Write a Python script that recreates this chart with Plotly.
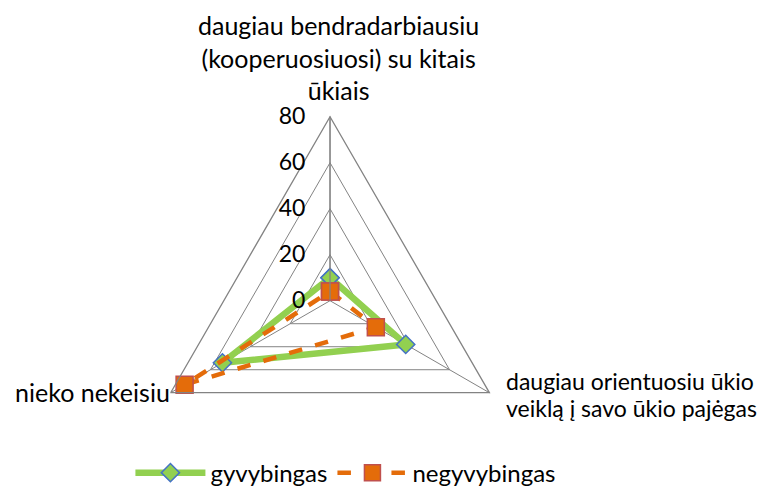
import plotly.graph_objects as go

# ---- data ----
categories = [
    "daugiau bendradarbiausiu<br>(kooperuosiuosi) su kitais<br>ūkiais",
    "daugiau orientuosiu ūkio<br>veiklą į savo ūkio pajėgas",
    "nieko nekeisiu",
]
gyvybingas = [10, 38, 54]
negyvybingas = [4, 23, 73]
radial_ticks = [0, 20, 40, 60, 80]

GRID = "#838383"
GREEN = "#92D050"
BLUE = "#4472C4"
ORANGE = "#E46C0A"
RED_EDGE = "#C0504D"
FONT = "Lato"

theta_ids = ["a", "b", "c"]


def closed(vals):
    return list(vals) + [vals[0]]


fig = go.Figure()
fig.add_trace(go.Scatterpolar(
    r=closed(gyvybingas), theta=closed(theta_ids), name="gyvybingas",
    mode="lines+markers",
    line=dict(color=GREEN, width=6.5),
    marker=dict(symbol="diamond", size=14, color=GREEN,
                line=dict(color=BLUE, width=1.5)),
))
fig.add_trace(go.Scatterpolar(
    r=closed(negyvybingas), theta=closed(theta_ids), name="negyvybingas",
    mode="lines+markers",
    line=dict(color=ORANGE, width=4.5, dash="dash"),
    marker=dict(symbol="square", size=17, color=ORANGE,
                line=dict(color=RED_EDGE, width=1.5)),
))

fig.update_layout(
    width=768, height=489,
    margin=dict(l=0, r=0, t=0, b=0),
    paper_bgcolor="white",
    font=dict(family=FONT, size=24, color="black"),
    polar=dict(
        domain=dict(x=[0.1797, 0.6589], y=[0.0244, 0.7784]),
        gridshape="linear",
        bgcolor="white",
        radialaxis=dict(
            range=[0, 80], tickvals=radial_ticks, angle=90, tickangle=90,
            side="counterclockwise",
            ticks="outside", ticklen=16, tickcolor="rgba(0,0,0,0)",
            tickfont=dict(size=23),
            showline=True, linecolor=GRID, linewidth=1.3,
            gridcolor=GRID, gridwidth=1.3,
        ),
        angularaxis=dict(
            rotation=90, direction="clockwise",
            showticklabels=False, ticks="",
            linecolor=GRID, linewidth=1.3,
            gridcolor=GRID, gridwidth=1.3,
        ),
    ),
    legend=dict(orientation="h", x=0.44, xanchor="center", y=0.003,
                yanchor="bottom", itemwidth=70, font=dict(size=24)),
    showlegend=True,
)

# category labels around the triangle
fig.add_annotation(text=categories[0], x=0.43, y=1.0, xref="paper", yref="paper",
                   xanchor="center", yanchor="top", showarrow=False, align="center",
                   font=dict(size=25))
right_lines = categories[1].split("<br>")
for line, ypos in zip(right_lines, [0.238, 0.183]):
    fig.add_annotation(text=line, x=0.646, y=ypos, xref="paper", yref="paper",
                       xanchor="left", yanchor="middle", showarrow=False,
                       font=dict(size=23))
fig.add_annotation(text=categories[2], x=0.214, y=0.215, xref="paper", yref="paper",
                   xanchor="right", yanchor="middle", showarrow=False, align="right",
                   font=dict(size=25))

fig.write_html("out.html")
